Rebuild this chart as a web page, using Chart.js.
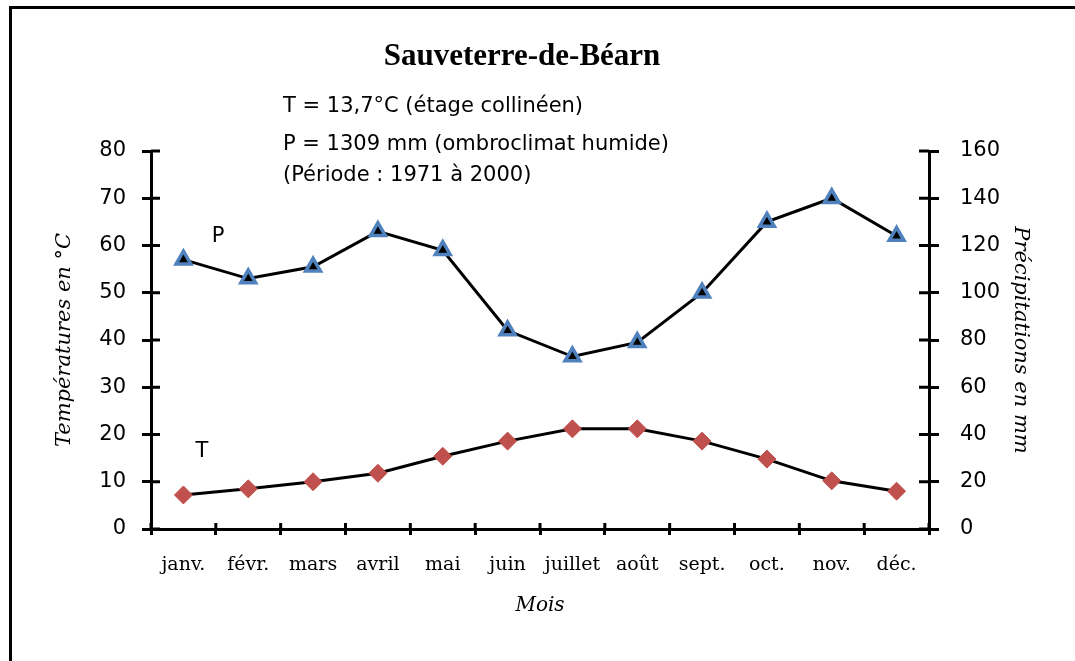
<!DOCTYPE html>
<html><head><meta charset="utf-8">
<script src="https://cdn.jsdelivr.net/npm/chart.js@4/dist/chart.umd.min.js"></script>
<style>
html,body{margin:0;padding:0;background:#fff;}
#wrap{position:relative;width:1075px;height:661px;overflow:hidden;}
#frame{position:absolute;left:9px;top:6px;width:2000px;height:2000px;border-left:3px solid #000;border-top:3px solid #000;pointer-events:none;}
canvas{position:absolute;left:0;top:0;}
</style></head><body>
<div id="wrap"><canvas id="c" width="1075" height="661"></canvas><div id="frame"></div></div>
<script>
// ---- data ----
const months = ['janv.', 'févr.', 'mars', 'avril', 'mai', 'juin', 'juillet', 'août', 'sept.', 'oct.', 'nov.', 'déc.'];
const temperatures = [7.2, 8.5, 10.0, 11.8, 15.4, 18.6, 21.2, 21.2, 18.6, 14.8, 10.2, 8.0];
const precipitations = [114, 106, 111, 126, 118, 84, 73, 79, 100, 130, 140, 124];
const tempAxis = {min: 0, max: 80, step: 10};
const precAxis = {min: 0, max: 160, step: 20};
const chartTitle = 'Sauveterre-de-Béarn';
const infoLines = ['T = 13,7°C (étage collinéen)', 'P = 1309 mm (ombroclimat humide)', '(Période : 1971 à 2000)'];
const seriesNames = ['T', 'P'];

const SANS = 'DejaVu Sans';
const SERIF = 'DejaVu Serif';

const innerTicks = {
  id: 'innerTicks',
  beforeDatasetsDraw(chart) {
    const {ctx, chartArea: a, scales} = chart;
    ctx.save();
    ctx.strokeStyle = '#000';
    ctx.lineWidth = 3;
    ctx.beginPath();
    scales.y.ticks.forEach((t, i) => { const p = scales.y.getPixelForTick(i); ctx.moveTo(a.left, p); ctx.lineTo(a.left + 9, p); });
    scales.y1.ticks.forEach((t, i) => { const p = scales.y1.getPixelForTick(i); ctx.moveTo(a.right, p); ctx.lineTo(a.right - 10, p); });
    for (let i = 0; i <= months.length; i++) {
      const p = scales.x.getPixelForValue(i - 0.5);
      ctx.moveTo(p, a.bottom); ctx.lineTo(p, a.bottom - 6);
    }
    ctx.stroke();
    ctx.restore();
  }
};

const textLayer = {
  id: 'textLayer',
  afterDraw(chart) {
    const ctx = chart.ctx;
    ctx.save();
    ctx.fillStyle = '#000';
    ctx.textBaseline = 'middle';
    ctx.textAlign = 'center';
    ctx.font = 'bold 31px "Liberation Serif"';
    ctx.fillText(chartTitle, 522, 57);
    ctx.textAlign = 'left';
    ctx.font = '21px "' + SANS + '"';
    const ys = [107, 145, 176];
    infoLines.forEach((t, i) => ctx.fillText(t, 283, ys[i]));
    ctx.font = '21px "' + SANS + '"';
    ctx.textAlign = 'center';
    ctx.fillText(seriesNames[1], 218, 237);
    ctx.fillText(seriesNames[0], 202, 452);
    ctx.restore();
  }
};

new Chart(document.getElementById('c'), {
  type: 'line',
  data: {
    labels: months,
    datasets: [
      {
        label: seriesNames[0], data: temperatures, yAxisID: 'y',
        borderColor: '#000', borderWidth: 3, tension: 0,
        pointStyle: 'rectRot', pointRadius: 9, pointHoverRadius: 9,
        pointBackgroundColor: '#C0504D', pointBorderColor: '#C0504D', pointBorderWidth: 1
      },
      {
        label: seriesNames[1], data: precipitations, yAxisID: 'y1',
        borderColor: '#000', borderWidth: 3, tension: 0,
        pointStyle: 'triangle', pointRadius: 8.5, pointHoverRadius: 8.5,
        pointBackgroundColor: '#000', pointBorderColor: '#4F81BD', pointBorderWidth: 3.5
      }
    ]
  },
  options: {
    responsive: false, animation: false, devicePixelRatio: 1,
    layout: {padding: {top: 151, left: 0, right: 0, bottom: 0}},
    plugins: {
      legend: {display: false},
      tooltip: {enabled: false},
      title: {display: false}
    },
    scales: {
      x: {
        type: 'category', offset: true,
        grid: {display: true, drawOnChartArea: false, drawTicks: true, tickLength: 6, color: '#000', lineWidth: 3, offset: true},
        border: {display: true, color: '#000', width: 3},
        ticks: {color: '#000', font: {family: SERIF, size: 19}, padding: 19, maxRotation: 0, autoSkip: false},
        title: {display: true, text: 'Mois', color: '#000', font: {family: SERIF, size: 20, style: 'italic', lineHeight: 1.2}, padding: {top: 0, bottom: 43}},
        afterFit(s) { s.height = 132; }
      },
      y: {
        position: 'left', min: tempAxis.min, max: tempAxis.max,
        grid: {display: true, drawOnChartArea: false, drawTicks: true, tickLength: 9, color: '#000', lineWidth: 3},
        border: {display: true, color: '#000', width: 3},
        ticks: {stepSize: tempAxis.step, color: '#000', font: {family: SANS, size: 21}, padding: 16},
        title: {display: true, text: 'Températures en °C', color: '#000', font: {family: SERIF, size: 21, style: 'italic', lineHeight: 1.2}, padding: {top: 52, bottom: 0}},
        afterFit(s) { s.width = 151; }
      },
      y1: {
        position: 'right', min: precAxis.min, max: precAxis.max,
        grid: {display: true, drawOnChartArea: false, drawTicks: true, tickLength: 10, color: '#000', lineWidth: 3},
        border: {display: true, color: '#000', width: 3},
        ticks: {stepSize: precAxis.step, color: '#000', font: {family: SANS, size: 21}, padding: 21},
        title: {display: true, text: 'Précipitations en mm', color: '#000', font: {family: SERIF, size: 21, style: 'italic', lineHeight: 1.2}, padding: {top: 42, bottom: 0}},
        afterFit(s) { s.width = 146; }
      }
    }
  },
  plugins: [innerTicks, textLayer]
});
</script>
</body></html>
